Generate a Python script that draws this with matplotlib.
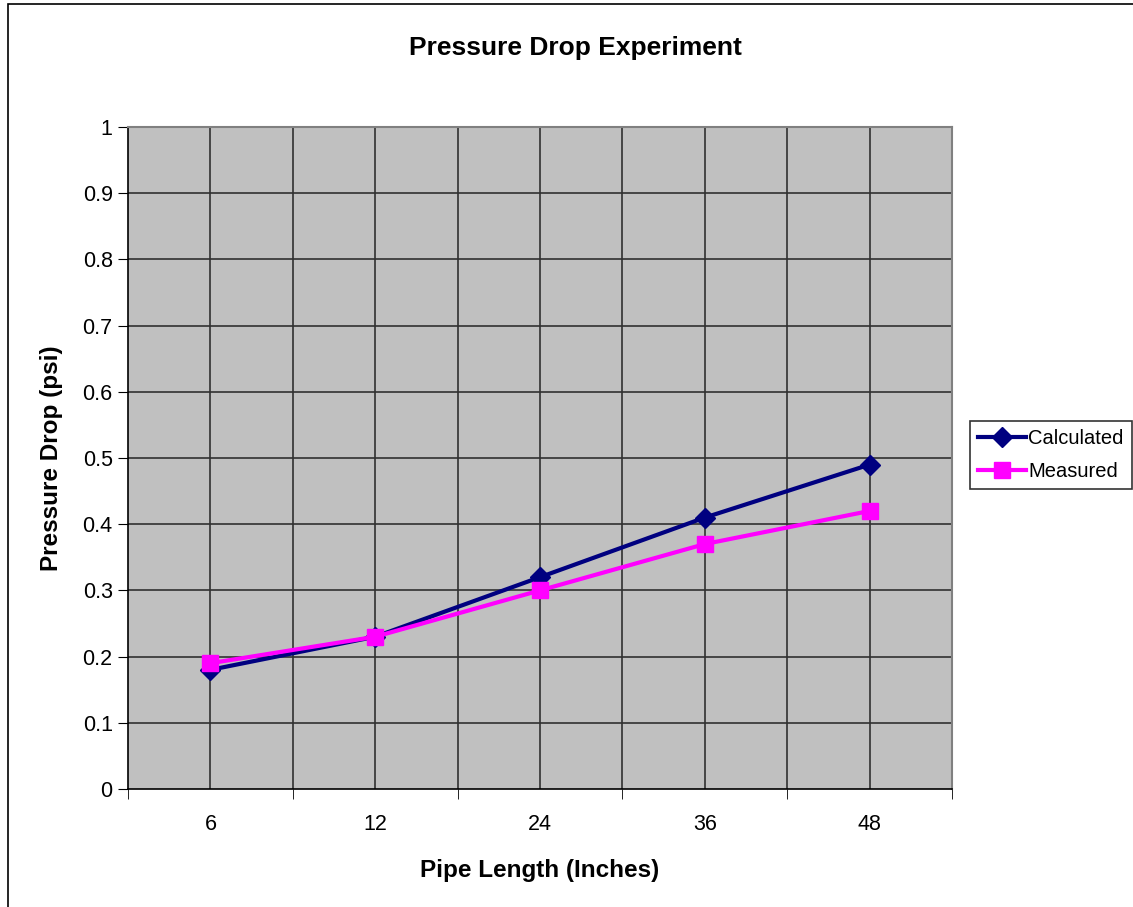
import numpy as np
import matplotlib
matplotlib.use("Agg")
import matplotlib.pyplot as plt
from matplotlib.patches import Rectangle

plt.rcParams['font.family'] = ['Liberation Sans', 'DejaVu Sans']

lengths = ['6', '12', '24', '36', '48']
calculated = [0.18, 0.23, 0.32, 0.41, 0.49]
measured = [0.19, 0.23, 0.30, 0.37, 0.42]

fig = plt.figure(figsize=(11.33, 9.07), dpi=100)
fig.patch.set_facecolor('white')

# outer chart border (Excel chart area)
fig.patches.append(Rectangle((8 / 1133, -0.01), 1.1, (907 - 4) / 907 + 0.01,
                             transform=fig.transFigure, fill=False,
                             edgecolor='black', linewidth=1.2))

ax = fig.add_axes([128 / 1133, (907 - 789) / 907, 824 / 1133, 662 / 907])
ax.set_facecolor('#C0C0C0')

x = np.arange(len(lengths))
ax.plot(x, calculated, color='#000080', linewidth=3, marker='D', markersize=10,
        label='Calculated', zorder=3)
ax.plot(x, measured, color='#FF00FF', linewidth=3, marker='s', markersize=12,
        label='Measured', zorder=4)

ax.set_xlim(-0.5, len(lengths) - 0.5)
ax.set_ylim(0, 1)
ax.set_yticks(np.arange(0, 1.01, 0.1))
ax.set_yticklabels(['0'] + [f'{v:.1f}' for v in np.arange(0.1, 0.95, 0.1)] + ['1'])

ax.set_xticks(x)
ax.set_xticklabels(lengths)
ax.tick_params(axis='x', which='major', length=0, pad=18, labelsize=15.5)
ax.set_xticks(np.arange(-0.5, len(lengths), 1.0), minor=True)
ax.tick_params(axis='x', which='minor', length=7, direction='out', color='black')
ax.tick_params(axis='y', length=7, direction='out', labelsize=15.5, pad=4)

# gridlines every half category
for g in np.arange(0, len(lengths) - 0.5, 0.5):
    ax.axvline(g, color='#303030', linewidth=1.2, zorder=1)
for v in np.arange(0.1, 1.0, 0.1):
    ax.axhline(v, color='#303030', linewidth=1.2, zorder=1)

for s in ['top', 'right']:
    ax.spines[s].set_color('#808080')
    ax.spines[s].set_linewidth(1.5)
for s in ['left', 'bottom']:
    ax.spines[s].set_color('black')
    ax.spines[s].set_linewidth(1.2)

ax.set_xlabel('Pipe Length (Inches)', fontsize=17.5, fontweight='bold', labelpad=17)
ax.set_ylabel('Pressure Drop (psi)', fontsize=17.5, fontweight='bold', labelpad=14)
fig.text(575 / 1133, 1 - 48 / 907, 'Pressure Drop Experiment', ha='center', va='center',
         fontsize=19, fontweight='bold')

leg = ax.legend(loc='center left', bbox_to_anchor=(970 / 824 - 128 / 824, 0.505),
                frameon=True, fancybox=False, fontsize=14.5, handlelength=2.4,
                handletextpad=0.1, borderpad=0.4, labelspacing=0.7, borderaxespad=0)
leg.get_frame().set_edgecolor('black')
leg.get_frame().set_linewidth(1.2)

fig.savefig('out.png', dpi=100)
